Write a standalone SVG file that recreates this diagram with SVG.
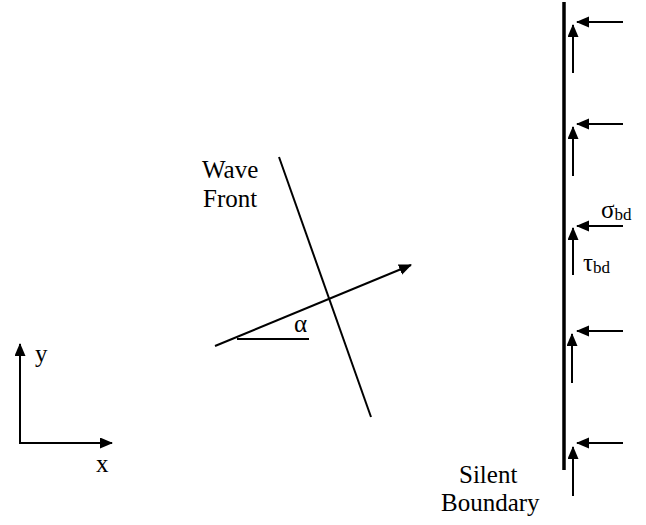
<svg xmlns="http://www.w3.org/2000/svg" width="646" height="525" viewBox="0 0 646 525">
  <style>
    .ln { stroke: #000; stroke-width: 2; fill: none; }
    .arr { stroke: #000; stroke-width: 2; fill: none; marker-end: url(#ah); }
    .t { font-family: "Liberation Serif", "Times New Roman", serif; font-size: 25px; fill: #000; }
    .sub { font-size: 17px; }
  </style>
  <defs>
    <marker id="ah" markerUnits="userSpaceOnUse" markerWidth="14" markerHeight="12" refX="12" refY="5.5" orient="auto">
      <path d="M0,0 L13,5.5 L0,11 Z" fill="#000"/>
    </marker>
  </defs>
  <rect width="646" height="525" fill="#fff"/>

  <g id="connectors">
    <!-- axes -->
    <line class="arr" x1="20" y1="443" x2="20" y2="344"/>
    <line class="arr" x1="19" y1="443" x2="112" y2="443"/>
    <!-- wave direction -->
    <line class="arr" x1="215" y1="346" x2="411" y2="265"/>
    <line class="ln" x1="237" y1="339" x2="309" y2="339"/>
    <!-- boundary arrows -->
    <line class="arr" x1="623" y1="22" x2="577" y2="22"/>
    <line class="arr" x1="623" y1="124" x2="577" y2="124"/>
    <line class="arr" x1="623" y1="226" x2="577" y2="226"/>
    <line class="arr" x1="623" y1="331" x2="577" y2="331"/>
    <line class="arr" x1="623" y1="443" x2="577" y2="443"/>
    <line class="arr" x1="573" y1="73" x2="573" y2="25"/>
    <line class="arr" x1="573" y1="176" x2="573" y2="127"/>
    <line class="arr" x1="573" y1="275" x2="573" y2="228"/>
    <line class="arr" x1="572" y1="383" x2="572" y2="334"/>
    <line class="arr" x1="573" y1="496" x2="573" y2="447"/>
  </g>

  <g id="wave-front">
    <line class="ln" x1="279" y1="157" x2="371" y2="417"/>
    <text class="t" x="202" y="178">Wave</text>
    <text class="t" x="203" y="207">Front</text>
  </g>

  <g id="angle">
    <text class="t" x="294" y="332">α</text>
  </g>

  <g id="axes-labels">
    <text class="t" x="35" y="362">y</text>
    <text class="t" x="96" y="472">x</text>
  </g>

  <g id="silent-boundary">
    <line x1="564" y1="2" x2="564" y2="470" stroke="#000" stroke-width="3.5"/>
    <text class="t" x="459" y="483">Silent</text>
    <text class="t" x="441" y="511">Boundary</text>
  </g>

  <g id="stress-labels">
    <text class="t" x="601" y="218">σ<tspan class="sub" dy="2">bd</tspan></text>
    <text class="t" x="583" y="271">τ<tspan class="sub" dy="2">bd</tspan></text>
  </g>
</svg>
